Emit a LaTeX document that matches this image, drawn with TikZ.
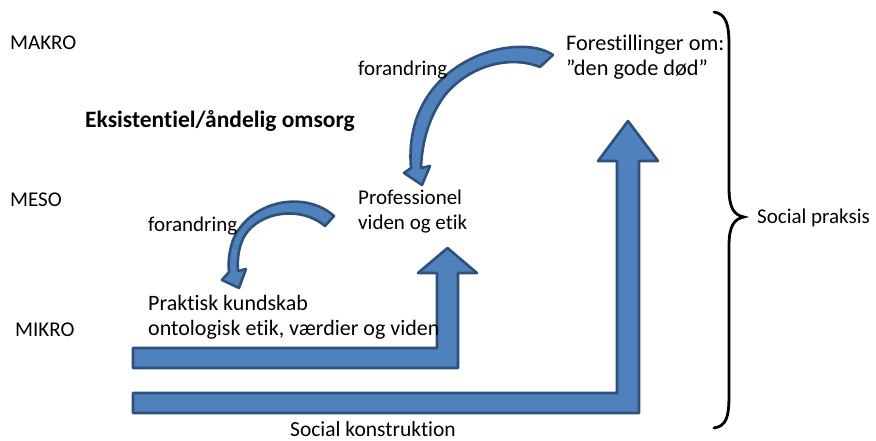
\documentclass[tikz,border=0pt]{standalone}
\usepackage{fontspec}
\setmainfont{Carlito}[Ligatures=NoCommon]
\definecolor{blkfill}{HTML}{4F81BD}
\definecolor{blkline}{HTML}{2F5078}
\begin{document}
\begin{tikzpicture}[x=1pt,y=-1pt,
  txt/.style={inner sep=0pt,anchor=west,align=left,font=\fontsize{21}{25}\selectfont},
  blockarrow/.style={fill=blkfill,draw=blkline,line width=2.6pt,line join=round},
  bracestyle/.style={draw=black,line width=2.8pt,line cap=round}]
\useasboundingbox (0,0) rectangle (876,441);
% L-shaped block arrows
\path[blockarrow] (133,393) -- (617,393) -- (617,161) -- (598,161) -- (628,121) -- (658,161) -- (639,161) -- (639,413) -- (133,413) -- cycle;
\path[blockarrow] (133,348) -- (437,348) -- (437,273) -- (418,273) -- (447.5,248) -- (477,273) -- (458,273) -- (458,368) -- (133,368) -- cycle;
% curved arrows
\path[blockarrow] (553,55) .. controls (525,35) and (440,50) .. (416,120) .. controls (410,140) and (410,155) .. (411,168)
  -- (404,173) -- (422,185) -- (430,166) -- (421,168)
  .. controls (422,140) and (430,115) .. (445,95) .. controls (470,65) and (510,55) .. (540,67) -- cycle;
\path[blockarrow] (334,216) .. controls (305,190) and (250,200) .. (233,240) .. controls (229,252) and (228,262) .. (229,272)
  -- (222,280) -- (239,288) -- (246,269) -- (238,271)
  .. controls (237,258) and (239,245) .. (245,235) .. controls (260,212) and (300,205) .. (325,226) -- cycle;
% brace
\path[bracestyle] (714,12) .. controls (726,14) and (729,24) .. (729,45) -- (729,188)
  .. controls (729,208) and (734,215) .. (744,217) .. controls (734,219) and (729,226) .. (729,246)
  -- (729,395) .. controls (729,418) and (726,426) .. (714,428);
% texts
\node[txt] (makro) at (10,43) {MAKRO};
\node[txt] (meso) at (10,200) {MESO};
\node[txt] (mikro) at (15,330) {MIKRO};
\node[txt,font=\fontsize{23.5}{25}\selectfont\bfseries] (eksist) at (85,121) {Eksistentiel/åndelig omsorg};
\node[txt] (forand1) at (358,70) {forandring};
\node[txt] (forand2) at (148,226) {forandring};
\node[txt,font=\fontsize{22.3}{25}\selectfont] (forest) at (566,57) {Forestillinger om:\\”den gode død”};
\node[txt] (prof) at (358,212) {Professionel\\viden og etik};
\node[txt,font=\fontsize{22}{25}\selectfont] (prakt) at (148,317) {Praktisk kundskab\\ontologisk etik, værdier og viden};
\node[txt,anchor=center,font=\fontsize{21.5}{25}\selectfont] (sock) at (373,429) {Social konstruktion};
\node[txt] (socp) at (757,218) {Social praksis};
\end{tikzpicture}
\end{document}
